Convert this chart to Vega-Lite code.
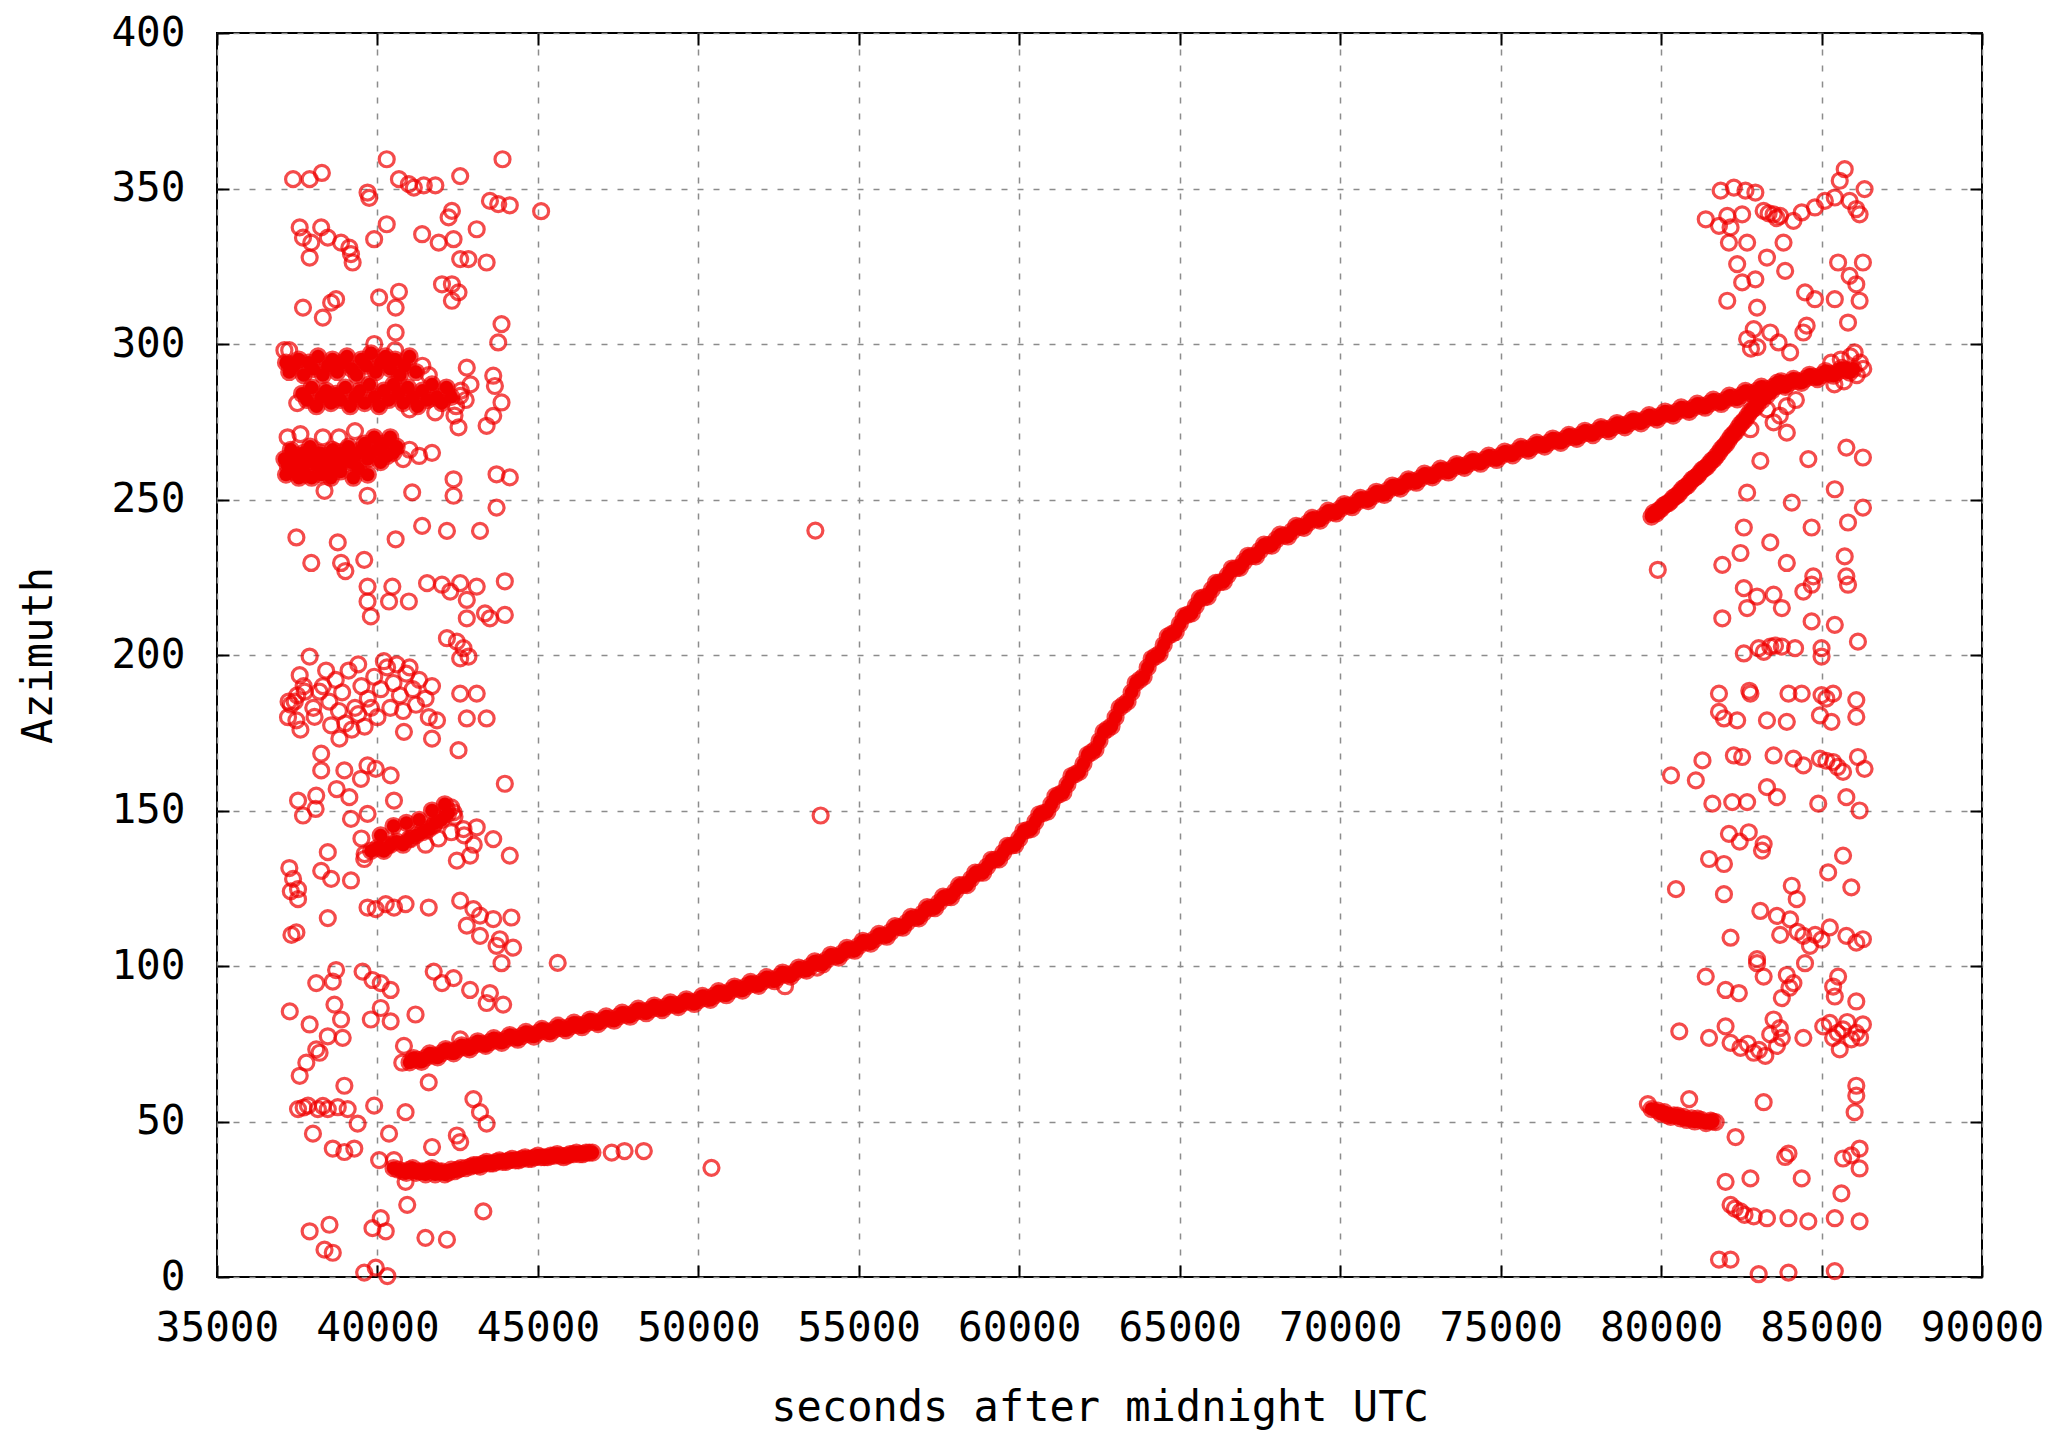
{
"$schema":"https://vega.github.io/schema/vega-lite/v6.json",
"width":1765,"height":1244,
"autosize":{"type":"none"},
"padding":{"left":217,"top":33,"right":80,"bottom":156},
"background":"white",
"config":{"view":{"stroke":"black","strokeWidth":2},
"axis":{"labelFont":"DejaVu Sans Mono","labelFontSize":41,"labelColor":"black","titleFont":"DejaVu Sans Mono","titleFontSize":42,"titleFontWeight":"normal","titleColor":"black","domain":false,"gridColor":"#8c8c8c","gridDash":[6,10],"gridWidth":1.5,"tickColor":"black","tickWidth":2,"tickSize":-12,"labelFlush":false,"labelOverlap":false}},
"datasets":{
"dense":[
{"t":41000,"a":69.0},{"t":41250,"a":69.8},{"t":41500,"a":70.5},{"t":41750,"a":71.2},{"t":42000,"a":72.0},{"t":42250,"a":72.6},{"t":42500,"a":73.2},{"t":42750,"a":73.8},{"t":43000,"a":74.5},{"t":43250,"a":75.0},{"t":43500,"a":75.5},{"t":43750,"a":76.0},{"t":44000,"a":76.5},{"t":44250,"a":77.0},{"t":44500,"a":77.5},{"t":44750,"a":78.0},{"t":45000,"a":78.5},{"t":45250,"a":79.0},{"t":45500,"a":79.5},{"t":45750,"a":80.0},{"t":46000,"a":80.5},{"t":46250,"a":81.0},{"t":46500,"a":81.5},{"t":46750,"a":82.0},{"t":47000,"a":82.5},{"t":47250,"a":83.1},{"t":47500,"a":83.7},{"t":47750,"a":84.3},{"t":48000,"a":85.0},{"t":48250,"a":85.5},{"t":48500,"a":86.0},{"t":48750,"a":86.5},{"t":49000,"a":87.0},{"t":49250,"a":87.5},{"t":49500,"a":88.0},{"t":49750,"a":88.5},{"t":50000,"a":89.0},{"t":50250,"a":89.7},{"t":50500,"a":90.5},{"t":50750,"a":91.2},{"t":51000,"a":92.0},{"t":51250,"a":92.7},{"t":51500,"a":93.5},{"t":51750,"a":94.2},{"t":52000,"a":95.0},{"t":52250,"a":95.7},{"t":52500,"a":96.5},{"t":52750,"a":97.2},{"t":53000,"a":98.0},{"t":53250,"a":99.0},{"t":53500,"a":100.0},{"t":53750,"a":101.0},{"t":54000,"a":102.0},{"t":54250,"a":103.1},{"t":54500,"a":104.2},{"t":54750,"a":105.3},{"t":55000,"a":106.5},{"t":55250,"a":107.6},{"t":55500,"a":108.7},{"t":55750,"a":109.8},{"t":56000,"a":111.0},{"t":56250,"a":112.5},{"t":56500,"a":114.0},{"t":56750,"a":115.5},{"t":57000,"a":117.0},{"t":57250,"a":118.7},{"t":57500,"a":120.4},{"t":57750,"a":122.1},{"t":58000,"a":124.0},{"t":58250,"a":126.0},{"t":58500,"a":128.0},{"t":58750,"a":130.0},{"t":59000,"a":132.0},{"t":59250,"a":134.2},{"t":59500,"a":136.4},{"t":59750,"a":138.7},{"t":60000,"a":141.0},{"t":60250,"a":143.7},{"t":60500,"a":146.4},{"t":60750,"a":149.2},{"t":61000,"a":152.0},{"t":61250,"a":155.2},{"t":61500,"a":158.4},{"t":61750,"a":161.7},{"t":62000,"a":165.0},{"t":62250,"a":168.7},{"t":62500,"a":172.4},{"t":62750,"a":176.2},{"t":63000,"a":180.0},{"t":63250,"a":184.0},{"t":63500,"a":188.0},{"t":63750,"a":192.0},{"t":64000,"a":196.0},{"t":64250,"a":199.6},{"t":64500,"a":203.2},{"t":64750,"a":206.7},{"t":65000,"a":210.0},{"t":65250,"a":213.0},{"t":65500,"a":215.8},{"t":65750,"a":218.5},{"t":66000,"a":221.0},{"t":66250,"a":223.4},{"t":66500,"a":225.7},{"t":66750,"a":227.9},{"t":67000,"a":230.0},{"t":67250,"a":231.8},{"t":67500,"a":233.6},{"t":67750,"a":235.3},{"t":68000,"a":237.0},{"t":68250,"a":238.4},{"t":68500,"a":239.8},{"t":68750,"a":241.2},{"t":69000,"a":242.5},{"t":69250,"a":243.6},{"t":69500,"a":244.8},{"t":69750,"a":245.9},{"t":70000,"a":247.0},{"t":70250,"a":248.0},{"t":70500,"a":249.0},{"t":70750,"a":250.0},{"t":71000,"a":251.0},{"t":71250,"a":252.0},{"t":71500,"a":253.0},{"t":71750,"a":254.0},{"t":72000,"a":255.0},{"t":72250,"a":255.9},{"t":72500,"a":256.8},{"t":72750,"a":257.7},{"t":73000,"a":258.5},{"t":73250,"a":259.3},{"t":73500,"a":260.0},{"t":73750,"a":260.8},{"t":74000,"a":261.5},{"t":74250,"a":262.1},{"t":74500,"a":262.8},{"t":74750,"a":263.4},{"t":75000,"a":264.0},{"t":75250,"a":264.8},{"t":75500,"a":265.5},{"t":75750,"a":266.3},{"t":76000,"a":267.0},{"t":76250,"a":267.6},{"t":76500,"a":268.3},{"t":76750,"a":268.9},{"t":77000,"a":269.5},{"t":77250,"a":270.1},{"t":77500,"a":270.8},{"t":77750,"a":271.4},{"t":78000,"a":272.0},{"t":78250,"a":272.6},{"t":78500,"a":273.3},{"t":78750,"a":273.9},{"t":79000,"a":274.5},{"t":79250,"a":275.1},{"t":79500,"a":275.8},{"t":79750,"a":276.4},{"t":80000,"a":277.0},{"t":80250,"a":277.6},{"t":80500,"a":278.3},{"t":80750,"a":278.9},{"t":81000,"a":279.5},{"t":81250,"a":280.1},{"t":81500,"a":280.8},{"t":81750,"a":281.4},{"t":82000,"a":282.0},{"t":82250,"a":282.8},{"t":82500,"a":283.5},{"t":82750,"a":284.3},{"t":83000,"a":285.0},{"t":83250,"a":285.6},{"t":83500,"a":286.3},{"t":83750,"a":286.9},{"t":84000,"a":287.5},{"t":84250,"a":288.1},{"t":84500,"a":288.8},{"t":84750,"a":289.4},{"t":85000,"a":290.0},{"t":85250,"a":290.5},{"t":85500,"a":291.0},{"t":85750,"a":291.5},{"t":86000,"a":292.0},
{"t":41125,"a":70.4},{"t":41375,"a":69.2},{"t":41625,"a":71.9},{"t":41875,"a":70.6},{"t":42125,"a":73.3},{"t":42375,"a":71.9},{"t":42625,"a":74.5},{"t":42875,"a":73.2},{"t":43125,"a":75.8},{"t":43375,"a":74.3},{"t":43625,"a":76.8},{"t":43875,"a":75.3},{"t":44125,"a":77.8},{"t":44375,"a":76.3},{"t":44625,"a":78.8},{"t":44875,"a":77.3},{"t":45125,"a":79.8},{"t":45375,"a":78.3},{"t":45625,"a":80.8},{"t":45875,"a":79.3},{"t":46125,"a":81.8},{"t":46375,"a":80.3},{"t":46625,"a":82.8},{"t":46875,"a":81.3},{"t":47125,"a":83.8},{"t":47375,"a":82.4},{"t":47625,"a":85},{"t":47875,"a":83.7},{"t":48125,"a":86.3},{"t":48375,"a":84.8},{"t":48625,"a":87.3},{"t":48875,"a":85.8},{"t":49125,"a":88.3},{"t":49375,"a":86.8},{"t":49625,"a":89.3},{"t":49875,"a":87.8},{"t":50125,"a":90.4},{"t":50375,"a":89.1},{"t":50625,"a":91.9},{"t":50875,"a":90.6},{"t":51125,"a":93.4},{"t":51375,"a":92.1},{"t":51625,"a":94.9},{"t":51875,"a":93.6},{"t":52125,"a":96.4},{"t":52375,"a":95.1},{"t":52625,"a":97.9},{"t":52875,"a":96.6},{"t":53125,"a":99.5},{"t":53375,"a":98.5},{"t":53625,"a":101.5},{"t":53875,"a":100.5},{"t":54125,"a":103.6},{"t":54375,"a":102.7},{"t":54625,"a":105.8},{"t":54875,"a":104.9},{"t":55125,"a":108.1},{"t":55375,"a":107.2},{"t":55625,"a":110.3},{"t":55875,"a":109.4},{"t":56125,"a":112.8},{"t":56375,"a":112.3},{"t":56625,"a":115.8},{"t":56875,"a":115.3},{"t":57125,"a":118.9},{"t":57375,"a":118.6},{"t":57625,"a":122.3},{"t":57875,"a":122.1},{"t":58125,"a":126},{"t":58375,"a":126},{"t":58625,"a":130},{"t":58875,"a":130},{"t":59125,"a":134.1},{"t":59375,"a":134.3},{"t":59625,"a":138.6},{"t":59875,"a":138.9},{"t":60125,"a":143.4},{"t":60375,"a":144},{"t":60625,"a":148.8},{"t":60875,"a":149.6},{"t":61125,"a":154.6},{"t":61375,"a":155.8},{"t":61625,"a":161.1},{"t":61875,"a":162.4},{"t":62125,"a":167.9},{"t":62375,"a":169.6},{"t":62625,"a":175.3},{"t":62875,"a":177.1},{"t":63125,"a":183},{"t":63375,"a":185},{"t":63625,"a":191},{"t":63875,"a":193},{"t":64125,"a":198.8},{"t":64375,"a":200.4},{"t":64625,"a":206},{"t":64875,"a":207.4},{"t":65125,"a":212.5},{"t":65375,"a":213.4},{"t":65625,"a":218.2},{"t":65875,"a":218.8},{"t":66125,"a":223.2},{"t":66375,"a":223.6},{"t":66625,"a":227.8},{"t":66875,"a":228},{"t":67125,"a":231.9},{"t":67375,"a":231.7},{"t":67625,"a":235.5},{"t":67875,"a":235.2},{"t":68125,"a":238.7},{"t":68375,"a":238.1},{"t":68625,"a":241.5},{"t":68875,"a":240.9},{"t":69125,"a":244.1},{"t":69375,"a":243.2},{"t":69625,"a":246.4},{"t":69875,"a":245.5},{"t":70125,"a":248.5},{"t":70375,"a":247.5},{"t":70625,"a":250.5},{"t":70875,"a":249.5},{"t":71125,"a":252.5},{"t":71375,"a":251.5},{"t":71625,"a":254.5},{"t":71875,"a":253.5},{"t":72125,"a":256.5},{"t":72375,"a":255.4},{"t":72625,"a":258.3},{"t":72875,"a":257.1},{"t":73125,"a":259.9},{"t":73375,"a":258.7},{"t":73625,"a":261.4},{"t":73875,"a":260.2},{"t":74125,"a":262.8},{"t":74375,"a":261.5},{"t":74625,"a":264.1},{"t":74875,"a":262.7},{"t":75125,"a":265.4},{"t":75375,"a":264.2},{"t":75625,"a":266.9},{"t":75875,"a":265.7},{"t":76125,"a":268.3},{"t":76375,"a":267},{"t":76625,"a":269.6},{"t":76875,"a":268.2},{"t":77125,"a":270.8},{"t":77375,"a":269.5},{"t":77625,"a":272.1},{"t":77875,"a":270.7},{"t":78125,"a":273.3},{"t":78375,"a":272},{"t":78625,"a":274.6},{"t":78875,"a":273.2},{"t":79125,"a":275.8},{"t":79375,"a":274.5},{"t":79625,"a":277.1},{"t":79875,"a":275.7},{"t":80125,"a":278.3},{"t":80375,"a":277},{"t":80625,"a":279.6},{"t":80875,"a":278.2},{"t":81125,"a":280.8},{"t":81375,"a":279.5},{"t":81625,"a":282.1},{"t":81875,"a":280.7},{"t":82125,"a":283.4},{"t":82375,"a":282.2},{"t":82625,"a":284.9},{"t":82875,"a":283.7},{"t":83125,"a":286.3},{"t":83375,"a":285},{"t":83625,"a":287.6},{"t":83875,"a":286.2},{"t":84125,"a":288.8},{"t":84375,"a":287.5},{"t":84625,"a":290.1},{"t":84875,"a":288.7},{"t":85125,"a":291.3},{"t":85375,"a":289.8},{"t":85625,"a":292.3},{"t":85875,"a":290.8},
{"t":79700,"a":244.5},{"t":79850,"a":245.5},{"t":80000,"a":247},{"t":80150,"a":248.5},{"t":80300,"a":249.5},{"t":80450,"a":251},{"t":80600,"a":252.5},{"t":80750,"a":254},{"t":80900,"a":255.5},{"t":81050,"a":257},{"t":81200,"a":258.5},{"t":81350,"a":260},{"t":81500,"a":261.5},{"t":81650,"a":263},{"t":81800,"a":265},{"t":81950,"a":267},{"t":82100,"a":269},{"t":82250,"a":271},{"t":82400,"a":273},{"t":82550,"a":275},{"t":82700,"a":277},{"t":82850,"a":279},{"t":83000,"a":280.5},{"t":83150,"a":282},{"t":83300,"a":283.5},{"t":83450,"a":285},{"t":83600,"a":286.5},{"t":83750,"a":288},
{"t":79775,"a":245.8},{"t":79925,"a":246.5},{"t":80075,"a":248},{"t":80225,"a":248.8},{"t":80375,"a":250.5},{"t":80525,"a":251.5},{"t":80675,"a":253.5},{"t":80825,"a":254.5},{"t":80975,"a":256.5},{"t":81125,"a":257.5},{"t":81275,"a":259.5},{"t":81425,"a":260.5},{"t":81575,"a":262.5},{"t":81725,"a":264},{"t":81875,"a":266.2},{"t":82025,"a":267.8},{"t":82175,"a":270.2},{"t":82325,"a":271.8},{"t":82475,"a":274.2},{"t":82625,"a":275.8},{"t":82775,"a":278.2},{"t":82925,"a":279.5},
{"t":40500,"a":35},{"t":40800,"a":34},{"t":41000,"a":34.5},{"t":41200,"a":33.5},{"t":41400,"a":34},{"t":41600,"a":34.5},{"t":41800,"a":33},{"t":42000,"a":34},{"t":42200,"a":33.5},{"t":42400,"a":34},{"t":42600,"a":35},{"t":42900,"a":35.5},{"t":43100,"a":36},{"t":43300,"a":36.5},{"t":43500,"a":36.5},{"t":43700,"a":37},{"t":43900,"a":37},{"t":44100,"a":37.5},{"t":44300,"a":37.5},{"t":44500,"a":38},{"t":44700,"a":38},{"t":44900,"a":38.5},{"t":45100,"a":38.5},{"t":45300,"a":38.5},{"t":45500,"a":39},{"t":45700,"a":39},{"t":45900,"a":39},{"t":46100,"a":39.5},{"t":46300,"a":39.5},{"t":46500,"a":40},{"t":46700,"a":40},
{"t":40650,"a":34.5},{"t":40900,"a":33.5},{"t":41100,"a":35},{"t":41300,"a":34},{"t":41500,"a":33},{"t":41700,"a":35},{"t":41900,"a":34},{"t":42100,"a":33},{"t":42300,"a":34.5},{"t":42500,"a":34.5},{"t":42750,"a":35},{"t":43000,"a":36},{"t":43200,"a":35.5},{"t":43400,"a":37},{"t":43600,"a":36.5},{"t":43800,"a":37.5},{"t":44000,"a":37},{"t":44200,"a":38},{"t":44400,"a":37.5},{"t":44600,"a":38.5},{"t":44800,"a":38},{"t":45000,"a":39},{"t":45200,"a":38.5},{"t":45400,"a":39},{"t":45600,"a":39.5},{"t":45800,"a":38.5},{"t":46000,"a":39.5},{"t":46200,"a":40},{"t":46400,"a":39.5},{"t":46600,"a":40},
{"t":79700,"a":54},{"t":79900,"a":53.5},{"t":80000,"a":52.5},{"t":80103,"a":53},{"t":80200,"a":52},{"t":80300,"a":51.5},{"t":80400,"a":52},{"t":80515,"a":51.9},{"t":80600,"a":51},{"t":80700,"a":51.5},{"t":80800,"a":50.5},{"t":80950,"a":51},{"t":81050,"a":50},{"t":81134,"a":50.9},{"t":81250,"a":50.5},{"t":81400,"a":49.5},{"t":81546,"a":50.3},{"t":81600,"a":50},
{"t":37100,"a":263},{"t":37200,"a":261},{"t":37300,"a":266},{"t":37400,"a":262},{"t":37500,"a":264},{"t":37600,"a":260},{"t":37700,"a":265},{"t":37800,"a":262},{"t":37900,"a":267},{"t":38000,"a":263},{"t":38100,"a":261},{"t":38200,"a":265},{"t":38300,"a":262},{"t":38400,"a":264},{"t":38500,"a":260},{"t":38600,"a":266},{"t":38700,"a":263},{"t":38800,"a":261},{"t":38900,"a":265},{"t":39000,"a":263},{"t":39100,"a":267},{"t":39200,"a":262},{"t":39300,"a":264},{"t":39400,"a":260},{"t":39500,"a":266},{"t":39600,"a":268},{"t":39700,"a":263},{"t":39800,"a":265},{"t":39900,"a":270},{"t":40000,"a":266},{"t":40100,"a":262},{"t":40200,"a":268},{"t":40300,"a":264},{"t":40400,"a":270},{"t":40500,"a":265},{"t":40600,"a":267},
{"t":37150,"a":258},{"t":37350,"a":259},{"t":37550,"a":257},{"t":37750,"a":258},{"t":37950,"a":257},{"t":38250,"a":258},{"t":38550,"a":257},{"t":38850,"a":259},{"t":39250,"a":257},{"t":39700,"a":258},
{"t":37150,"a":294},{"t":37250,"a":291},{"t":37400,"a":293},{"t":37550,"a":295},{"t":37700,"a":290},{"t":37850,"a":294},{"t":38000,"a":292},{"t":38150,"a":296},{"t":38300,"a":290},{"t":38450,"a":293},{"t":38600,"a":295},{"t":38750,"a":291},{"t":38900,"a":294},{"t":39050,"a":296},{"t":39200,"a":292},{"t":39350,"a":290},{"t":39500,"a":295},{"t":39650,"a":293},{"t":39800,"a":297},{"t":39950,"a":291},{"t":40100,"a":294},{"t":40250,"a":296},{"t":40400,"a":292},{"t":40550,"a":295},{"t":40700,"a":290},{"t":40850,"a":293},{"t":41000,"a":296},{"t":41200,"a":291},
{"t":37650,"a":284},{"t":37800,"a":282},{"t":37950,"a":286},{"t":38100,"a":280},{"t":38250,"a":283},{"t":38400,"a":285},{"t":38550,"a":281},{"t":38700,"a":284},{"t":38850,"a":282},{"t":39000,"a":286},{"t":39150,"a":280},{"t":39300,"a":283},{"t":39450,"a":285},{"t":39600,"a":281},{"t":39750,"a":287},{"t":39900,"a":283},{"t":40050,"a":280},{"t":40200,"a":285},{"t":40350,"a":282},{"t":40500,"a":287},{"t":40650,"a":284},{"t":40800,"a":281},{"t":40950,"a":286},{"t":41100,"a":283},{"t":41250,"a":280},{"t":41400,"a":285},{"t":41550,"a":282},{"t":41700,"a":287},{"t":41850,"a":283},{"t":42000,"a":281},{"t":42150,"a":286},{"t":42300,"a":283},
{"t":39800,"a":137},{"t":40000,"a":138},{"t":40200,"a":137},{"t":40400,"a":139},{"t":40600,"a":140},{"t":40800,"a":139},{"t":41000,"a":141},{"t":41200,"a":142},{"t":41400,"a":143},{"t":41600,"a":144},{"t":41800,"a":146},{"t":42000,"a":147},{"t":42200,"a":149},{"t":40100,"a":142},{"t":40500,"a":145},{"t":40900,"a":146},{"t":41300,"a":147},{"t":41700,"a":150},{"t":42100,"a":152}
],
"scatter":[
{"t":47300,"a":40},{"t":47700,"a":40.5},{"t":48300,"a":40.5},{"t":79588,"a":55.6},{"t":80876,"a":57.2},{"t":81701,"a":49.8},
{"t":45100,"a":342.7},{"t":45617,"a":101},{"t":50408,"a":35.1},{"t":53646,"a":240},{"t":53810,"a":148.4},{"t":52700,"a":93.5},{"t":53700,"a":99.5},
{"t":37371,"a":353},{"t":37887,"a":353},{"t":38268,"a":355},{"t":40289,"a":359.4},{"t":39691,"a":348.7},{"t":39742,"a":347},{"t":40670,"a":353},{"t":40979,"a":351.4},{"t":41134,"a":350.3},{"t":41443,"a":351},{"t":41804,"a":351},{"t":42578,"a":354},{"t":43897,"a":359.4},{"t":43505,"a":346},{"t":43763,"a":345},{"t":44124,"a":344.6},
{"t":37577,"a":337.5},{"t":38247,"a":337.5},{"t":37680,"a":334.2},{"t":37938,"a":332.6},{"t":37887,"a":327.8},{"t":38453,"a":334.2},{"t":38866,"a":332.6},{"t":39124,"a":331},{"t":39175,"a":328.9},{"t":39227,"a":326.2},{"t":39897,"a":333.7},{"t":40289,"a":338.5},{"t":41392,"a":335.3},{"t":41907,"a":332.6},{"t":42371,"a":333.7},{"t":42320,"a":342.8},{"t":42217,"a":340.7},{"t":43093,"a":336.9},{"t":42578,"a":327.3},{"t":42836,"a":327.3},{"t":43402,"a":326.2},
{"t":37680,"a":311.7},{"t":38298,"a":308.5},{"t":38557,"a":313.3},{"t":38711,"a":314.4},{"t":40052,"a":315},{"t":40670,"a":316.8},{"t":40567,"a":311.7},{"t":42011,"a":319.2},{"t":42320,"a":319.2},{"t":42526,"a":316.6},{"t":42320,"a":313.9},{"t":43866,"a":306.4},{"t":43763,"a":300.5},{"t":40567,"a":303.7},
{"t":42783,"a":292.4},{"t":42578,"a":283.3},{"t":42526,"a":273.2},{"t":43608,"a":289.8},{"t":43660,"a":286.5},{"t":43866,"a":281.2},{"t":43608,"a":276.9},{"t":43402,"a":273.7},
{"t":38350,"a":252.8},{"t":39691,"a":251.2},{"t":41082,"a":252.3},{"t":42371,"a":256.5},{"t":42371,"a":251.2},{"t":43711,"a":258.1},{"t":44124,"a":257.1},{"t":43711,"a":247.4},
{"t":37474,"a":237.8},{"t":38763,"a":236.2},{"t":40567,"a":237.2},{"t":41392,"a":241.5},{"t":42165,"a":239.9},{"t":43196,"a":239.9},
{"t":40800,"a":263},{"t":41000,"a":266},{"t":41300,"a":264},{"t":41700,"a":265},{"t":37200,"a":270},{"t":37600,"a":271},{"t":38300,"a":270},{"t":38800,"a":270},{"t":39300,"a":272},
{"t":37100,"a":298},{"t":41400,"a":293},{"t":41600,"a":290},{"t":39900,"a":300},{"t":40550,"a":298},
{"t":37500,"a":281},{"t":42450,"a":280},{"t":42600,"a":285},{"t":42750,"a":282},{"t":42900,"a":287},{"t":41000,"a":279},{"t":41800,"a":278},{"t":42400,"a":277},
{"t":37938,"a":229.6},{"t":38866,"a":229.6},{"t":39588,"a":230.6},{"t":39000,"a":227},
{"t":39691,"a":222},{"t":39691,"a":217.2},{"t":39794,"a":212.4},{"t":40464,"a":222},{"t":40361,"a":217.2},{"t":40979,"a":217.2},
{"t":41546,"a":223.1},{"t":42011,"a":222.6},{"t":42578,"a":223.1},{"t":43093,"a":222},{"t":42268,"a":220.4},{"t":42784,"a":217.7},{"t":42784,"a":211.8},{"t":43351,"a":213.4},{"t":43969,"a":212.9},{"t":43969,"a":223.7},{"t":43505,"a":211.8},
{"t":42165,"a":205.4},{"t":42474,"a":204.3},{"t":42681,"a":202.2},{"t":42836,"a":199.5},{"t":42578,"a":198.9},
{"t":37887,"a":199.5},{"t":37577,"a":193.5},{"t":37422,"a":185},{"t":37474,"a":179},{"t":37732,"a":188.2},{"t":38196,"a":188.2},{"t":38557,"a":177.4},{"t":38814,"a":173.1},{"t":38040,"a":180.1},
{"t":42578,"a":187.6},{"t":43093,"a":187.6},{"t":42784,"a":179.6},{"t":43402,"a":179.6},
{"t":40825,"a":175.3},{"t":41701,"a":173.1},{"t":41856,"a":179},{"t":42526,"a":169.4},
{"t":38300,"a":190},{"t":38500,"a":185},{"t":38700,"a":192},{"t":38900,"a":188},{"t":39100,"a":195},{"t":39300,"a":183},{"t":39500,"a":190},{"t":39700,"a":186},{"t":39900,"a":193},{"t":40100,"a":189},{"t":40300,"a":196},{"t":40500,"a":191},{"t":40700,"a":187},{"t":40900,"a":194},{"t":41100,"a":189},{"t":41300,"a":192},{"t":41500,"a":186},{"t":41700,"a":190},{"t":39000,"a":178},{"t":39200,"a":176},{"t":39400,"a":181},{"t":39600,"a":177},{"t":39800,"a":183},{"t":40000,"a":180},{"t":39400,"a":197},{"t":40200,"a":198},{"t":40600,"a":197},{"t":41000,"a":196},{"t":40400,"a":183},{"t":40800,"a":182},{"t":38800,"a":182},{"t":38400,"a":195},{"t":37300,"a":184},{"t":37500,"a":187},{"t":37700,"a":190},{"t":38000,"a":183},{"t":37600,"a":176},{"t":41200,"a":184},{"t":41600,"a":180},
{"t":38247,"a":168.3},{"t":38247,"a":162.9},{"t":38969,"a":162.9},{"t":39485,"a":160.2},{"t":39948,"a":163.4},{"t":40412,"a":161.3},{"t":39691,"a":164.5},{"t":43969,"a":158.6},{"t":38729,"a":156.9},{"t":38073,"a":150.5},
{"t":37525,"a":153.2},{"t":38092,"a":154.8},{"t":37680,"a":148.4},{"t":39124,"a":154.3},{"t":39175,"a":147.3},{"t":39691,"a":148.9},{"t":40515,"a":153.2},
{"t":39588,"a":134.4},{"t":40309,"a":138.7},{"t":41031,"a":140.8},{"t":41752,"a":145.1},{"t":42165,"a":150.5},{"t":42371,"a":149.4},{"t":42681,"a":144},{"t":43093,"a":144.6},{"t":43608,"a":140.8},{"t":44124,"a":135.5},{"t":42474,"a":133.9},{"t":42887,"a":135.5},
{"t":39600,"a":136},{"t":42400,"a":148},{"t":42300,"a":151},{"t":41500,"a":139},{"t":41900,"a":141},{"t":42300,"a":143},{"t":42700,"a":142},{"t":43000,"a":139},{"t":39500,"a":141},{"t":40700,"a":143},
{"t":38453,"a":136.6},{"t":38247,"a":130.6},{"t":38557,"a":128},{"t":39175,"a":127.5},{"t":37371,"a":128},{"t":37525,"a":124.7},{"t":37525,"a":121.5},{"t":37254,"a":131.5},{"t":37300,"a":124},{"t":37320,"a":110},{"t":37213,"a":180},{"t":37230,"a":185},{"t":37250,"a":298},
{"t":40258,"a":119.9},{"t":39691,"a":118.8},{"t":39948,"a":118.3},{"t":40515,"a":118.8},{"t":40876,"a":119.9},{"t":41598,"a":118.8},{"t":38453,"a":115.4},{"t":37474,"a":110.8},
{"t":42578,"a":121},{"t":42990,"a":118.3},{"t":43196,"a":116.2},{"t":43608,"a":115.1},{"t":44175,"a":115.6},{"t":42784,"a":113},{"t":43196,"a":109.7},{"t":43814,"a":108.6},{"t":44227,"a":105.9},{"t":43711,"a":106.5},
{"t":38093,"a":94.5},{"t":38608,"a":95},{"t":38711,"a":98.7},{"t":39536,"a":98.2},{"t":39845,"a":95.5},{"t":40103,"a":94.5},{"t":40412,"a":92.3},
{"t":41753,"a":98.2},{"t":42011,"a":94.5},{"t":42371,"a":96.1},{"t":42887,"a":92.3},{"t":43505,"a":91.3},{"t":43917,"a":87.6},{"t":43402,"a":88.1},{"t":43866,"a":100.9},
{"t":37268,"a":85.4},{"t":38660,"a":87.6},{"t":38866,"a":82.8},{"t":37887,"a":81.2},{"t":38453,"a":77.4},{"t":38917,"a":76.9},{"t":38092,"a":73.2},{"t":38196,"a":72.1},{"t":37784,"a":68.9},{"t":37577,"a":64.7},
{"t":39794,"a":82.8},{"t":40103,"a":86.5},{"t":40412,"a":82.2},{"t":41186,"a":84.4},{"t":40825,"a":74.3},{"t":40773,"a":68.9},{"t":41598,"a":62.6},{"t":42578,"a":76.4},{"t":38969,"a":61.5},
{"t":37525,"a":54},{"t":37835,"a":55.1},{"t":38144,"a":54},{"t":38453,"a":54},{"t":38763,"a":54.6},{"t":39072,"a":54},{"t":37700,"a":54.5},{"t":38300,"a":55},
{"t":39382,"a":49.3},{"t":37990,"a":46.1},{"t":38608,"a":41.3},{"t":38969,"a":40.2},{"t":39279,"a":41.3},{"t":39897,"a":55.1},{"t":40876,"a":53},{"t":40361,"a":46.1},
{"t":42990,"a":57.2},{"t":43196,"a":53},{"t":43402,"a":49.3},{"t":42474,"a":45.5},{"t":42578,"a":43.4},{"t":41701,"a":41.8},{"t":40052,"a":37.6},{"t":40515,"a":37.6},
{"t":40876,"a":30.6},{"t":40928,"a":23.2},{"t":43299,"a":21.1},{"t":41495,"a":12.6},{"t":42165,"a":12},
{"t":37887,"a":14.7},{"t":38505,"a":16.8},{"t":38350,"a":8.8},{"t":38608,"a":7.8},{"t":39845,"a":15.7},{"t":40103,"a":18.9},{"t":40258,"a":14.7},{"t":39588,"a":1.4},{"t":39948,"a":3},{"t":40309,"a":0.3},
{"t":85722,"a":356.2},{"t":85567,"a":352.5},{"t":86341,"a":349.8},{"t":81856,"a":349.3},{"t":82268,"a":350.3},{"t":82629,"a":349.3},{"t":82938,"a":348.7},
{"t":81392,"a":340.1},{"t":82062,"a":341.2},{"t":82526,"a":341.7},{"t":82165,"a":337.5},{"t":81804,"a":338},
{"t":83196,"a":342.8},{"t":83505,"a":341.7},{"t":83711,"a":341.2},{"t":84124,"a":339.6},{"t":84382,"a":342.3},{"t":84794,"a":343.9},{"t":85103,"a":346},{"t":85412,"a":347.1},{"t":85876,"a":346},{"t":86083,"a":343.4},{"t":86186,"a":341.7},{"t":83350,"a":342},{"t":83600,"a":340.5},
{"t":82114,"a":332.6},{"t":82681,"a":332.6},{"t":83815,"a":332.6},{"t":82371,"a":325.7},{"t":83299,"a":327.8},{"t":83866,"a":323.5},{"t":82526,"a":319.8},{"t":82938,"a":320.8},
{"t":85516,"a":326.2},{"t":86289,"a":326.2},{"t":85876,"a":321.9},{"t":86083,"a":319.2},{"t":86186,"a":313.9},{"t":85825,"a":306.9},{"t":84485,"a":316.6},{"t":84794,"a":314.4},{"t":85413,"a":314.4},{"t":82062,"a":313.9},{"t":82990,"a":311.7},
{"t":82681,"a":301.6},{"t":82887,"a":304.8},{"t":83402,"a":303.7},{"t":83660,"a":300.5},{"t":84021,"a":297.3},{"t":84433,"a":303.7},{"t":84536,"a":305.9},{"t":82800,"a":298.5},{"t":83000,"a":299},{"t":86031,"a":297.3},
{"t":85300,"a":294},{"t":85600,"a":295},{"t":85900,"a":296},{"t":86200,"a":294},{"t":86100,"a":290},{"t":85700,"a":288},{"t":85400,"a":287},{"t":86300,"a":292},
{"t":83299,"a":279},{"t":83918,"a":280},{"t":83505,"a":274.8},{"t":82784,"a":272.6},{"t":83918,"a":271.5},{"t":83700,"a":277},{"t":84200,"a":282},
{"t":83093,"a":262.4},{"t":84588,"a":263},{"t":85774,"a":266.7},{"t":86289,"a":263.5},{"t":82681,"a":252.2},{"t":84072,"a":249},{"t":85413,"a":253.3},{"t":86289,"a":247.4},{"t":85825,"a":242.6},{"t":82578,"a":241},{"t":84691,"a":241},{"t":83402,"a":236.2},
{"t":79897,"a":227.4},{"t":81907,"a":229},{"t":82474,"a":232.8},{"t":83918,"a":229.6},{"t":85722,"a":231.7},
{"t":82578,"a":221.5},{"t":82990,"a":218.8},{"t":83505,"a":219.4},{"t":83763,"a":215.1},{"t":82681,"a":215.1},{"t":81907,"a":211.8},{"t":84433,"a":220.4},{"t":84742,"a":225.3},{"t":84691,"a":222.6},{"t":85773,"a":225.3},{"t":85825,"a":222.6},
{"t":84691,"a":210.8},{"t":85413,"a":209.7},{"t":86134,"a":204.3},
{"t":82578,"a":200.5},{"t":83041,"a":202.2},{"t":83402,"a":202.7},{"t":83763,"a":202.7},{"t":84175,"a":202.2},{"t":85000,"a":202.2},{"t":85000,"a":199.5},{"t":83550,"a":203},{"t":83200,"a":201},
{"t":81804,"a":187.6},{"t":82784,"a":187.6},{"t":83969,"a":187.6},{"t":84382,"a":187.6},{"t":85000,"a":187.1},{"t":85361,"a":187.6},{"t":86083,"a":185.5},{"t":86083,"a":180.1},{"t":81804,"a":181.7},{"t":81959,"a":179.6},{"t":82371,"a":179},{"t":83299,"a":179},{"t":83918,"a":178.5},{"t":84949,"a":180.6},{"t":85309,"a":178.5},{"t":82750,"a":188.5},{"t":85150,"a":186},
{"t":81289,"a":166.1},{"t":80309,"a":161.3},{"t":81083,"a":159.7},{"t":82268,"a":167.7},{"t":82526,"a":167.2},{"t":83505,"a":167.7},{"t":84124,"a":166.7},{"t":84433,"a":164.5},{"t":84949,"a":166.7},{"t":85361,"a":165.6},{"t":85670,"a":162.4},{"t":86134,"a":167.2},{"t":86340,"a":163.4},{"t":85150,"a":166},{"t":85500,"a":164},
{"t":83299,"a":157.5},{"t":83608,"a":154.3},{"t":81598,"a":152.2},{"t":82217,"a":152.7},{"t":82681,"a":152.7},{"t":84897,"a":152.2},{"t":85773,"a":154.3},{"t":86186,"a":150},
{"t":82114,"a":142.5},{"t":82732,"a":143},{"t":83144,"a":137.1},{"t":83196,"a":139.2},{"t":81495,"a":134.4},{"t":81959,"a":132.8},{"t":85670,"a":135.5},{"t":85206,"a":130.1},{"t":85928,"a":125.3},{"t":82450,"a":140},
{"t":80464,"a":124.7},{"t":81959,"a":123.1},{"t":84072,"a":125.8},{"t":84227,"a":121.5},
{"t":83093,"a":117.7},{"t":83608,"a":116.1},{"t":84021,"a":115},{"t":82165,"a":109.1},{"t":83711,"a":110},{"t":84433,"a":109.7},{"t":84639,"a":106.5},{"t":85258,"a":112.4},{"t":85773,"a":109.7},{"t":86289,"a":108.6},{"t":86083,"a":107.5},{"t":84250,"a":111},{"t":84800,"a":110},{"t":85000,"a":108.5},{"t":82990,"a":102.2},
{"t":81392,"a":96.6},{"t":82010,"a":92.3},{"t":82423,"a":91.3},{"t":82990,"a":100.9},{"t":83196,"a":96.6},{"t":83763,"a":89.7},{"t":83918,"a":97.1},{"t":84124,"a":94.5},{"t":84485,"a":100.9},{"t":84000,"a":93},
{"t":85516,"a":96.6},{"t":85413,"a":90.2},{"t":86083,"a":88.6},{"t":85361,"a":93.4},
{"t":80567,"a":79},{"t":81495,"a":76.9},{"t":82010,"a":80.6},{"t":82165,"a":75.3},{"t":82474,"a":73.7},{"t":82887,"a":72.1},{"t":83248,"a":71.1},{"t":83505,"a":82.8},{"t":83608,"a":74.3},{"t":83763,"a":76.9},{"t":84433,"a":76.9},{"t":83400,"a":78},{"t":83700,"a":80},{"t":82700,"a":75},{"t":83050,"a":73},
{"t":85052,"a":80.6},{"t":85258,"a":81.7},{"t":85670,"a":79.6},{"t":86083,"a":78.5},{"t":86289,"a":81.2},{"t":85567,"a":73.2},{"t":85361,"a":76.9},{"t":85928,"a":76.4},{"t":85800,"a":82},{"t":85500,"a":78.5},{"t":86200,"a":77},
{"t":86083,"a":61.5},{"t":86083,"a":58.3},{"t":86031,"a":53},{"t":83196,"a":56.2},{"t":82320,"a":45},
{"t":83866,"a":38.6},{"t":83969,"a":39.7},{"t":84382,"a":31.7},{"t":85670,"a":38.1},{"t":86186,"a":41.3},{"t":86186,"a":34.9},{"t":85928,"a":39.1},
{"t":82010,"a":30.6},{"t":82784,"a":31.7},{"t":85619,"a":26.9},
{"t":82165,"a":23.2},{"t":82474,"a":21.1},{"t":82887,"a":19.5},{"t":83299,"a":18.9},{"t":83969,"a":18.9},{"t":84588,"a":17.9},{"t":85413,"a":18.9},{"t":86186,"a":17.9},{"t":82300,"a":22},{"t":82600,"a":20},
{"t":81804,"a":5.6},{"t":82165,"a":5.6},{"t":83041,"a":0.9},{"t":83969,"a":1.4},{"t":85413,"a":1.9}
]},
"layer":[
{"data":{"name":"dense"},"mark":{"type":"point","shape":"circle","filled":true,"color":"#f00000","size":180,"opacity":1,"strokeWidth":0},
"encoding":{
"x":{"field":"t","type":"quantitative","scale":{"domain":[35000,90000],"nice":false,"zero":false},
"axis":{"orient":"bottom","values":[35000,40000,45000,50000,55000,60000,65000,70000,75000,80000,85000,90000],"format":"d","labelPadding":43,"title":"seconds after midnight UTC","titleY":143,"titleBaseline":"alphabetic"}},
"y":{"field":"a","type":"quantitative","scale":{"domain":[0,400],"nice":false,"zero":false},
"axis":{"orient":"left","values":[0,50,100,150,200,250,300,350,400],"format":"d","labelPadding":44,"title":"Azimuth","titleX":-166,"titleY":622,"titleAngle":270,"titleBaseline":"alphabetic","titleAlign":"center"}}}},
{"data":{"name":"dense"},"mark":{"type":"point","shape":"circle","filled":false,"color":"#f00000","size":225,"strokeWidth":3.2},
"encoding":{"x":{"field":"t","type":"quantitative","axis":null},"y":{"field":"a","type":"quantitative","axis":null}}},
{"data":{"name":"scatter"},"mark":{"type":"point","shape":"circle","filled":false,"color":"#f00000","size":225,"strokeWidth":3.2},
"encoding":{"x":{"field":"t","type":"quantitative","axis":null},"y":{"field":"a","type":"quantitative","axis":null}}},
{"data":{"values":[{"t":35000,"a":0}]},"mark":{"type":"point","opacity":0},
"encoding":{
"x":{"field":"t","type":"quantitative","axis":{"orient":"top","values":[35000,40000,45000,50000,55000,60000,65000,70000,75000,80000,85000,90000],"labels":false,"grid":false,"title":null}},
"y":{"field":"a","type":"quantitative","axis":{"orient":"right","values":[0,50,100,150,200,250,300,350,400],"labels":false,"grid":false,"title":null}}}}
]
}
